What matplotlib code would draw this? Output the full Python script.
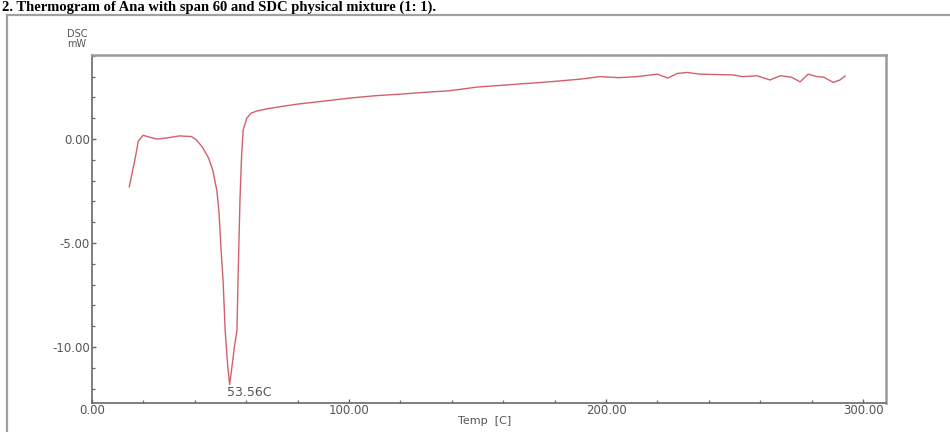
import matplotlib
matplotlib.use("Agg")
import matplotlib.pyplot as plt
from matplotlib.lines import Line2D
from matplotlib.ticker import MultipleLocator, FixedLocator

# ---- data ----
temp_c = [14.5, 15.5, 16.7, 18.0, 19.9, 22.0, 25.3, 29.0, 34.0, 38.7, 40.7, 43.0,
          45.3, 47.0, 48.6, 49.4, 50.2, 51.0, 51.8, 52.8, 53.56, 54.4, 55.4, 56.4,
          56.8, 57.2, 57.6, 58.2, 58.8, 60.2, 62.0, 64.2, 68.0, 73.0, 80.0, 90.0,
          100.4, 110, 120, 130, 139, 150, 159, 170, 178, 190, 197.7, 205, 212, 220,
          224, 227.6, 231.5, 236.6, 243, 249.5, 253, 258.7, 263.8, 267.7, 272, 275.5,
          278.6, 282, 284.6, 288.4, 291, 293]
dsc_mw = [-2.3, -1.7, -1.0, -0.1, 0.18, 0.1, 0.0, 0.05, 0.15, 0.12, -0.05, -0.4,
          -0.9, -1.5, -2.5, -3.5, -5.3, -6.8, -9.2, -10.9, -11.8, -11.0, -10.0, -9.2,
          -6.8, -4.8, -2.8, -0.8, 0.43, 1.0, 1.25, 1.35, 1.45, 1.55, 1.68, 1.82,
          1.97, 2.08, 2.16, 2.25, 2.32, 2.5, 2.58, 2.68, 2.75, 2.88, 3.0, 2.95, 3.0, 3.12,
          2.93, 3.15, 3.2, 3.12, 3.1, 3.08, 3.0, 3.04, 2.84, 3.04, 2.98, 2.75,
          3.12, 3.0, 2.98, 2.72, 2.84, 3.03]
peak_temp = 53.56
peak_value = -11.8
x_ticks = [0, 100, 200, 300]
x_ticklabels = ["0.00", "100.00", "200.00", "300.00"]
y_ticks = [-10, -5, 0]
y_ticklabels = ["-10.00", "-5.00", "0.00"]
title = "2. Thermogram of Ana with span 60 and SDC physical mixture (1: 1)."

W, H = 950, 432
fig = plt.figure(figsize=(W / 100, H / 100), dpi=100)
fig.patch.set_facecolor("white")

ax = fig.add_axes([92 / W, 1 - 403 / H, (886 - 92) / W, (403 - 55) / H])
ax.plot(temp_c, dsc_mw, color="#d2606c", lw=1.0, solid_joinstyle="round")

ax.set_xlim(0, 308.9)
ax.set_ylim(-12.69, 4.04)

ax.xaxis.set_major_locator(FixedLocator(x_ticks))
ax.set_xticklabels(x_ticklabels)
ax.xaxis.set_minor_locator(MultipleLocator(20))
ax.yaxis.set_major_locator(FixedLocator(y_ticks))
ax.set_yticklabels(y_ticklabels)
ax.yaxis.set_minor_locator(MultipleLocator(1))

tick_color = "#666666"
ax.tick_params(axis="both", which="both", direction="in", colors=tick_color,
               labelcolor="#555555", labelsize=8.5)
ax.tick_params(axis="both", which="major", length=3, width=1.0, pad=1.5)
ax.tick_params(axis="both", which="minor", length=2.5, width=0.9)
ax.tick_params(axis="x", which="major", pad=0.5)
for lab in ax.get_xticklabels() + ax.get_yticklabels():
    lab.set_fontfamily("DejaVu Sans")

for side in ["left", "bottom"]:
    ax.spines[side].set_color("#6a6a6a")
    ax.spines[side].set_linewidth(1.2)
for side in ["top", "right"]:
    ax.spines[side].set_color("#9a9a9a")
    ax.spines[side].set_linewidth(1.8)

ax.text(peak_temp - 1.0, peak_value - 0.05, f"{peak_temp:.2f}C", ha="left", va="top",
        fontsize=9, color="#555555", family="DejaVu Sans")

fig.text(485 / W, 1 - 421 / H, "Temp  [C]", ha="center", va="center",
         fontsize=8, color="#555555", family="DejaVu Sans")
fig.text(77 / W, 1 - 39 / H, "DSC\nmW", ha="center", va="center",
         fontsize=7, color="#555555", family="DejaVu Sans", linespacing=0.95)

# outer frame from the page
frame_y = 1 - 15 / H
fig.add_artist(Line2D([7 / W, 7 / W], [0, frame_y], color="#a0a0a0", lw=1.6,
                      transform=fig.transFigure))
fig.add_artist(Line2D([7 / W, 1], [frame_y, frame_y], color="#a0a0a0", lw=1.6,
                      transform=fig.transFigure))

# caption at top
fig.text(2 / W, 1 - 1 / H, title, ha="left", va="top", fontsize=10.5,
         fontweight="bold", family="Liberation Serif", color="black")

fig.savefig("out.png", dpi=100)
